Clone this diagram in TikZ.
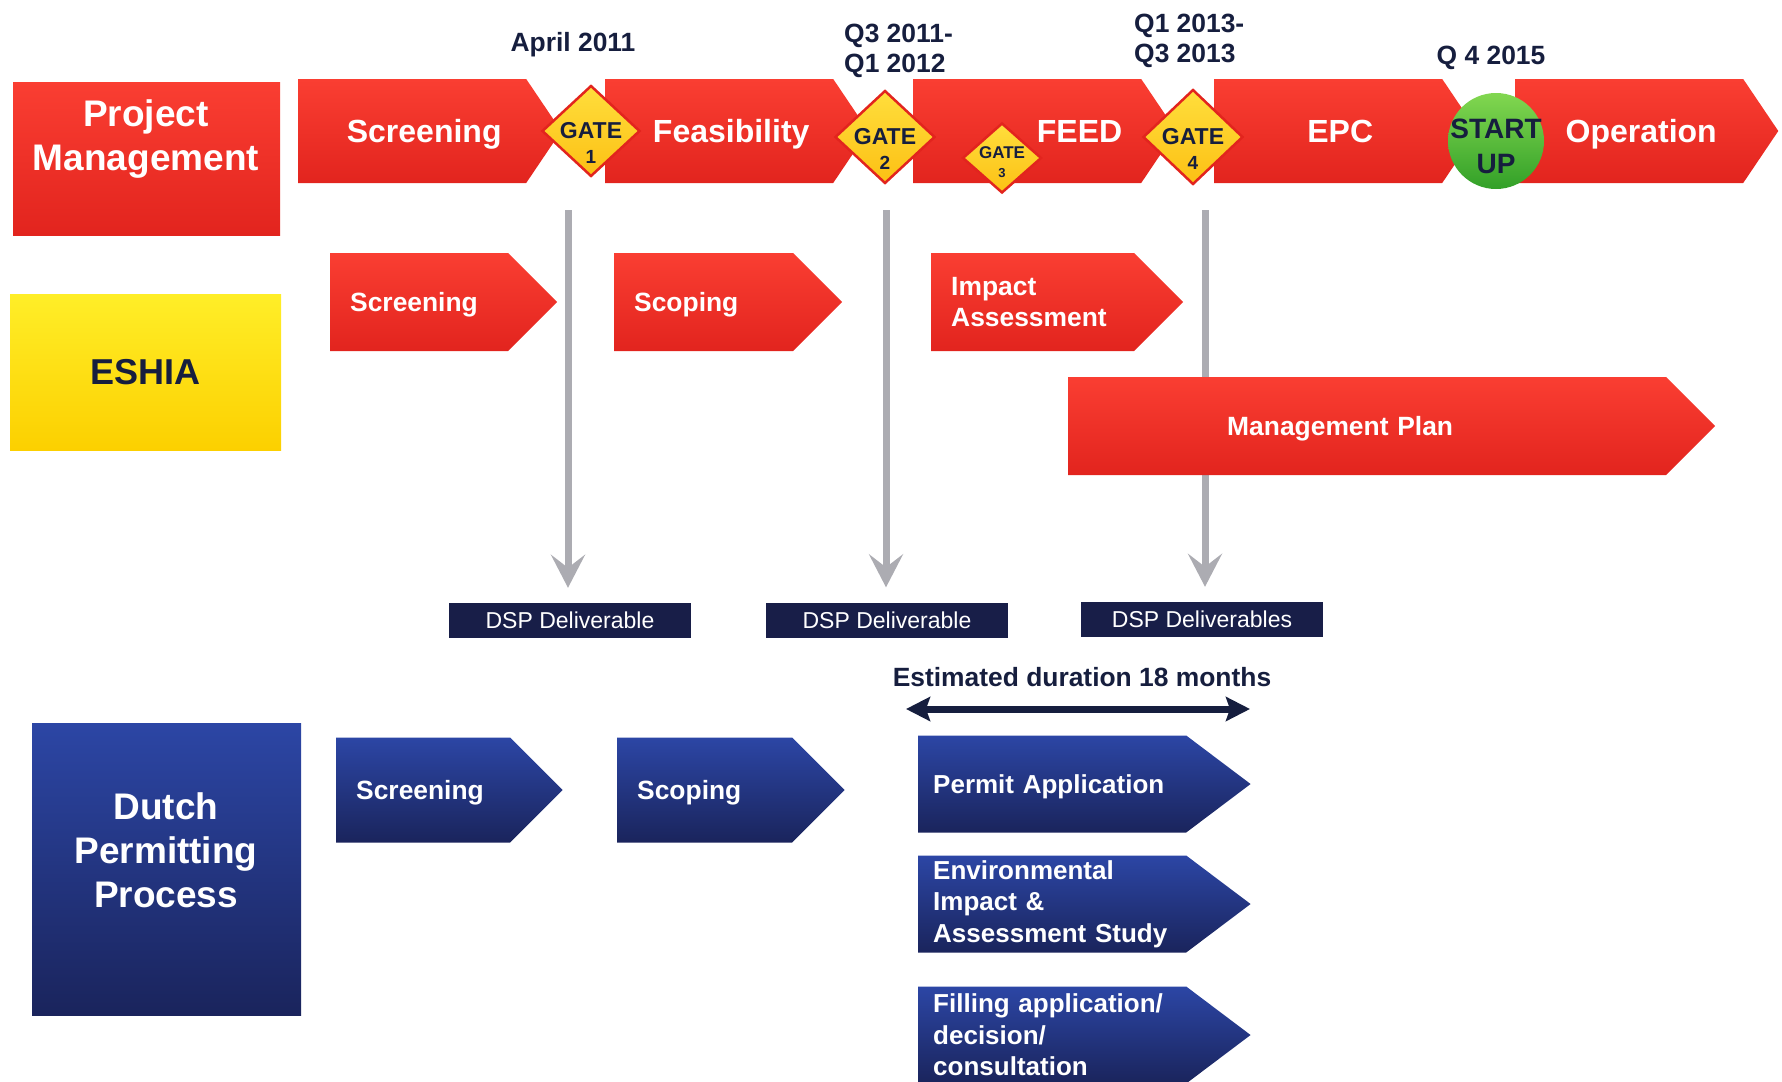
\documentclass[tikz,border=0pt]{standalone}
\usepackage{fontspec}
\setmainfont{Liberation Sans}
\usetikzlibrary{shapes.symbols,shapes.geometric,arrows.meta}

\definecolor{redhi}{RGB}{250,62,50}
\definecolor{redlo}{RGB}{226,36,30}
\definecolor{yelhi}{RGB}{255,238,40}
\definecolor{yello}{RGB}{252,208,0}
\definecolor{bluehi}{RGB}{44,70,165}
\definecolor{bluelo}{RGB}{26,36,92}
\definecolor{dspblue}{RGB}{24,30,72}
\definecolor{txtblue}{RGB}{22,30,62}
\definecolor{gatehi}{RGB}{255,222,60}
\definecolor{gatelo}{RGB}{252,192,20}
\definecolor{greenhi}{RGB}{130,215,80}
\definecolor{greenlo}{RGB}{50,160,40}
\definecolor{rodgray}{RGB}{172,172,178}

\tikzstyle{phase}=[signal, signal to=east, signal from=nowhere, anchor=west, top color=redhi, bottom color=redlo, text=white, font=\fontsize{32}{38}\selectfont\bfseries, inner xsep=10pt, inner ysep=0pt, minimum height=104pt, signal pointer angle=112, text width=208pt, text depth=0pt, align=center, execute at begin node=\hspace*{24pt}]
\tikzstyle{eshiastep}=[signal, signal to=east, signal from=nowhere, anchor=west, top color=redhi, bottom color=redlo, text=white, font=\fontsize{26.4}{30.5}\selectfont\bfseries, inner xsep=20pt, inner ysep=0pt, minimum height=98pt, signal pointer angle=90, align=left]
\tikzstyle{dutchstep}=[eshiastep, top color=bluehi, bottom color=bluelo, minimum height=105pt]
\tikzstyle{permitstep}=[dutchstep, inner xsep=15pt, minimum height=97pt, signal pointer angle=74, text width=238pt, font=\fontsize{26}{31.5}\selectfont\bfseries]
\tikzstyle{headbox}=[rectangle, inner sep=0pt]
\tikzstyle{headtxt}=[text=white, font=\fontsize{37}{44}\selectfont\bfseries, align=center, inner sep=0pt]
\tikzstyle{gate}=[diamond, draw=redlo, line width=2.5pt, top color=gatehi, bottom color=gatelo, inner sep=0pt]
\tikzstyle{gatetxt}=[text=txtblue, font=\fontsize{23}{25}\selectfont\bfseries, align=center, inner sep=0pt]
\tikzstyle{startup}=[circle, top color=greenhi, bottom color=greenlo, minimum size=96pt, inner sep=0pt]
\tikzstyle{datetxt}=[text=txtblue, font=\fontsize{26.4}{30}\selectfont\bfseries, align=left, inner sep=0pt]
\tikzstyle{dsp}=[rectangle, fill=dspblue, text=white, font=\fontsize{23}{26}\selectfont, minimum width=242pt, minimum height=35pt, inner sep=0pt]
\tikzstyle{rod}=[draw=rodgray, line width=7pt, -{Stealth[length=33pt,width=34pt,inset=13pt]}, shorten >=15pt]
\tikzstyle{spanarrow}=[draw=txtblue, line width=7pt, {Stealth[length=24pt,width=24pt,inset=4pt]}-{Stealth[length=24pt,width=24pt,inset=4pt]}]

\begin{document}
\begin{tikzpicture}[x=1pt,y=-1pt]
\useasboundingbox (0,0) rectangle (1782,1081);

\node [dsp] (dsp1) at (570,620.5) {DSP Deliverable};
\node [dsp] (dsp2) at (887,620) {DSP Deliverable};
\node [dsp] (dsp3) at (1202,619.5) {DSP Deliverables};

\coordinate (r1) at (568,210);
\coordinate (r2) at (886,210);
\coordinate (r3) at (1205,210);
\draw [rod] (r1) -- (r1 |- dsp1.north);
\draw [rod] (r2) -- (r2 |- dsp2.north);
\draw [rod] (r3) -- (r3 |- dsp3.north);

\node [headbox, top color=redhi, bottom color=redlo, minimum width=267pt, minimum height=153pt] (pm) at (146.5,158.5) {};
\node [headtxt] (pmtxt) at (146,139) {Project\\Management};
\node [headbox, top color=yelhi, bottom color=yello, minimum width=271pt, minimum height=156pt, text=txtblue, font=\fontsize{36}{40}\selectfont\bfseries] (eshia) at (145.5,372) {ESHIA};
\node [headbox, top color=bluehi, bottom color=bluelo, minimum width=269pt, minimum height=292pt] (dutch) at (166.5,869) {};
\node [headtxt] (dutchtxt) at (166,850) {Dutch\\Permitting\\Process};

\node [phase] (scr) at (298,131) {Screening};
\node [phase] (feas) at (605,131) {Feasibility};
\node [phase, align=right, inner xsep=19pt, text width=190pt] (feed) at (913,131) {FEED};
\node [phase] (epc) at (1214,131) {EPC};
\node [phase] (oper) at (1515,131) {Operation};

\node [gate, minimum width=98pt, minimum height=91pt] (g1) at (591,131) {};
\node [gate, minimum width=100pt, minimum height=93pt] (g2) at (885,137) {};
\node [gate, minimum width=79pt, minimum height=70pt] (g3) at (1002,158) {};
\node [gate, minimum width=100pt, minimum height=95pt] (g4) at (1193,137) {};
\node [startup] (su) at (1496,141) {};
\node [gatetxt] (g1txt) at (591,143) {GATE\\{\fontsize{19}{25}\selectfont 1}};
\node [gatetxt] (g2txt) at (885,149) {GATE\\{\fontsize{19}{25}\selectfont 2}};
\node [gatetxt, font=\fontsize{17}{18.5}\selectfont\bfseries] (g3txt) at (1002,162) {GATE\\{\fontsize{13}{18.5}\selectfont 3}};
\node [gatetxt] (g4txt) at (1193,149) {GATE\\{\fontsize{19}{25}\selectfont 4}};
\node [gatetxt, font=\fontsize{28}{35}\selectfont\bfseries] (sutxt) at (1496,146) {START\\UP};

\node [datetxt] (d1) at (573,45) {April 2011};
\node [datetxt, anchor=west] (d2) at (844,51) {Q3 2011-\\Q1 2012};
\node [datetxt, anchor=west] (d3) at (1134,41) {Q1 2013-\\Q3 2013};
\node [datetxt] (d4) at (1491,58) {Q 4 2015};

\node [eshiastep, text width=138pt, text depth=0pt] (escr) at (330,302) {Screening};
\node [eshiastep, text width=139pt, text depth=0pt] (escp) at (614,302) {Scoping};
\node [eshiastep, text width=163pt] (eimp) at (931,302) {Impact\\Assessment};
\node [eshiastep, text width=280pt, inner xsep=159pt, text depth=0pt] (emgt) at (1068,426) {Management Plan};

\node [datetxt] (est) at (1082,677) {Estimated duration 18 months};
\coordinate (spl) at (906,709);
\coordinate (spr) at (1250,709);
\draw [spanarrow] (spl) -- (spr);

\node [dutchstep, text width=134pt, text depth=0pt] (bscr) at (336,790) {Screening};
\node [dutchstep, text width=135pt, text depth=0pt] (bscp) at (617,790) {Scoping};
\node [permitstep, text depth=0pt] (bprm) at (918,784) {Permit Application};
\node [permitstep] (benv) at (918,904) {Environmental\\Impact \&\\Assessment Study};
\node [permitstep] (bfil) at (918,1035) {Filling application/\\decision/\\consultation};
\end{tikzpicture}
\end{document}
